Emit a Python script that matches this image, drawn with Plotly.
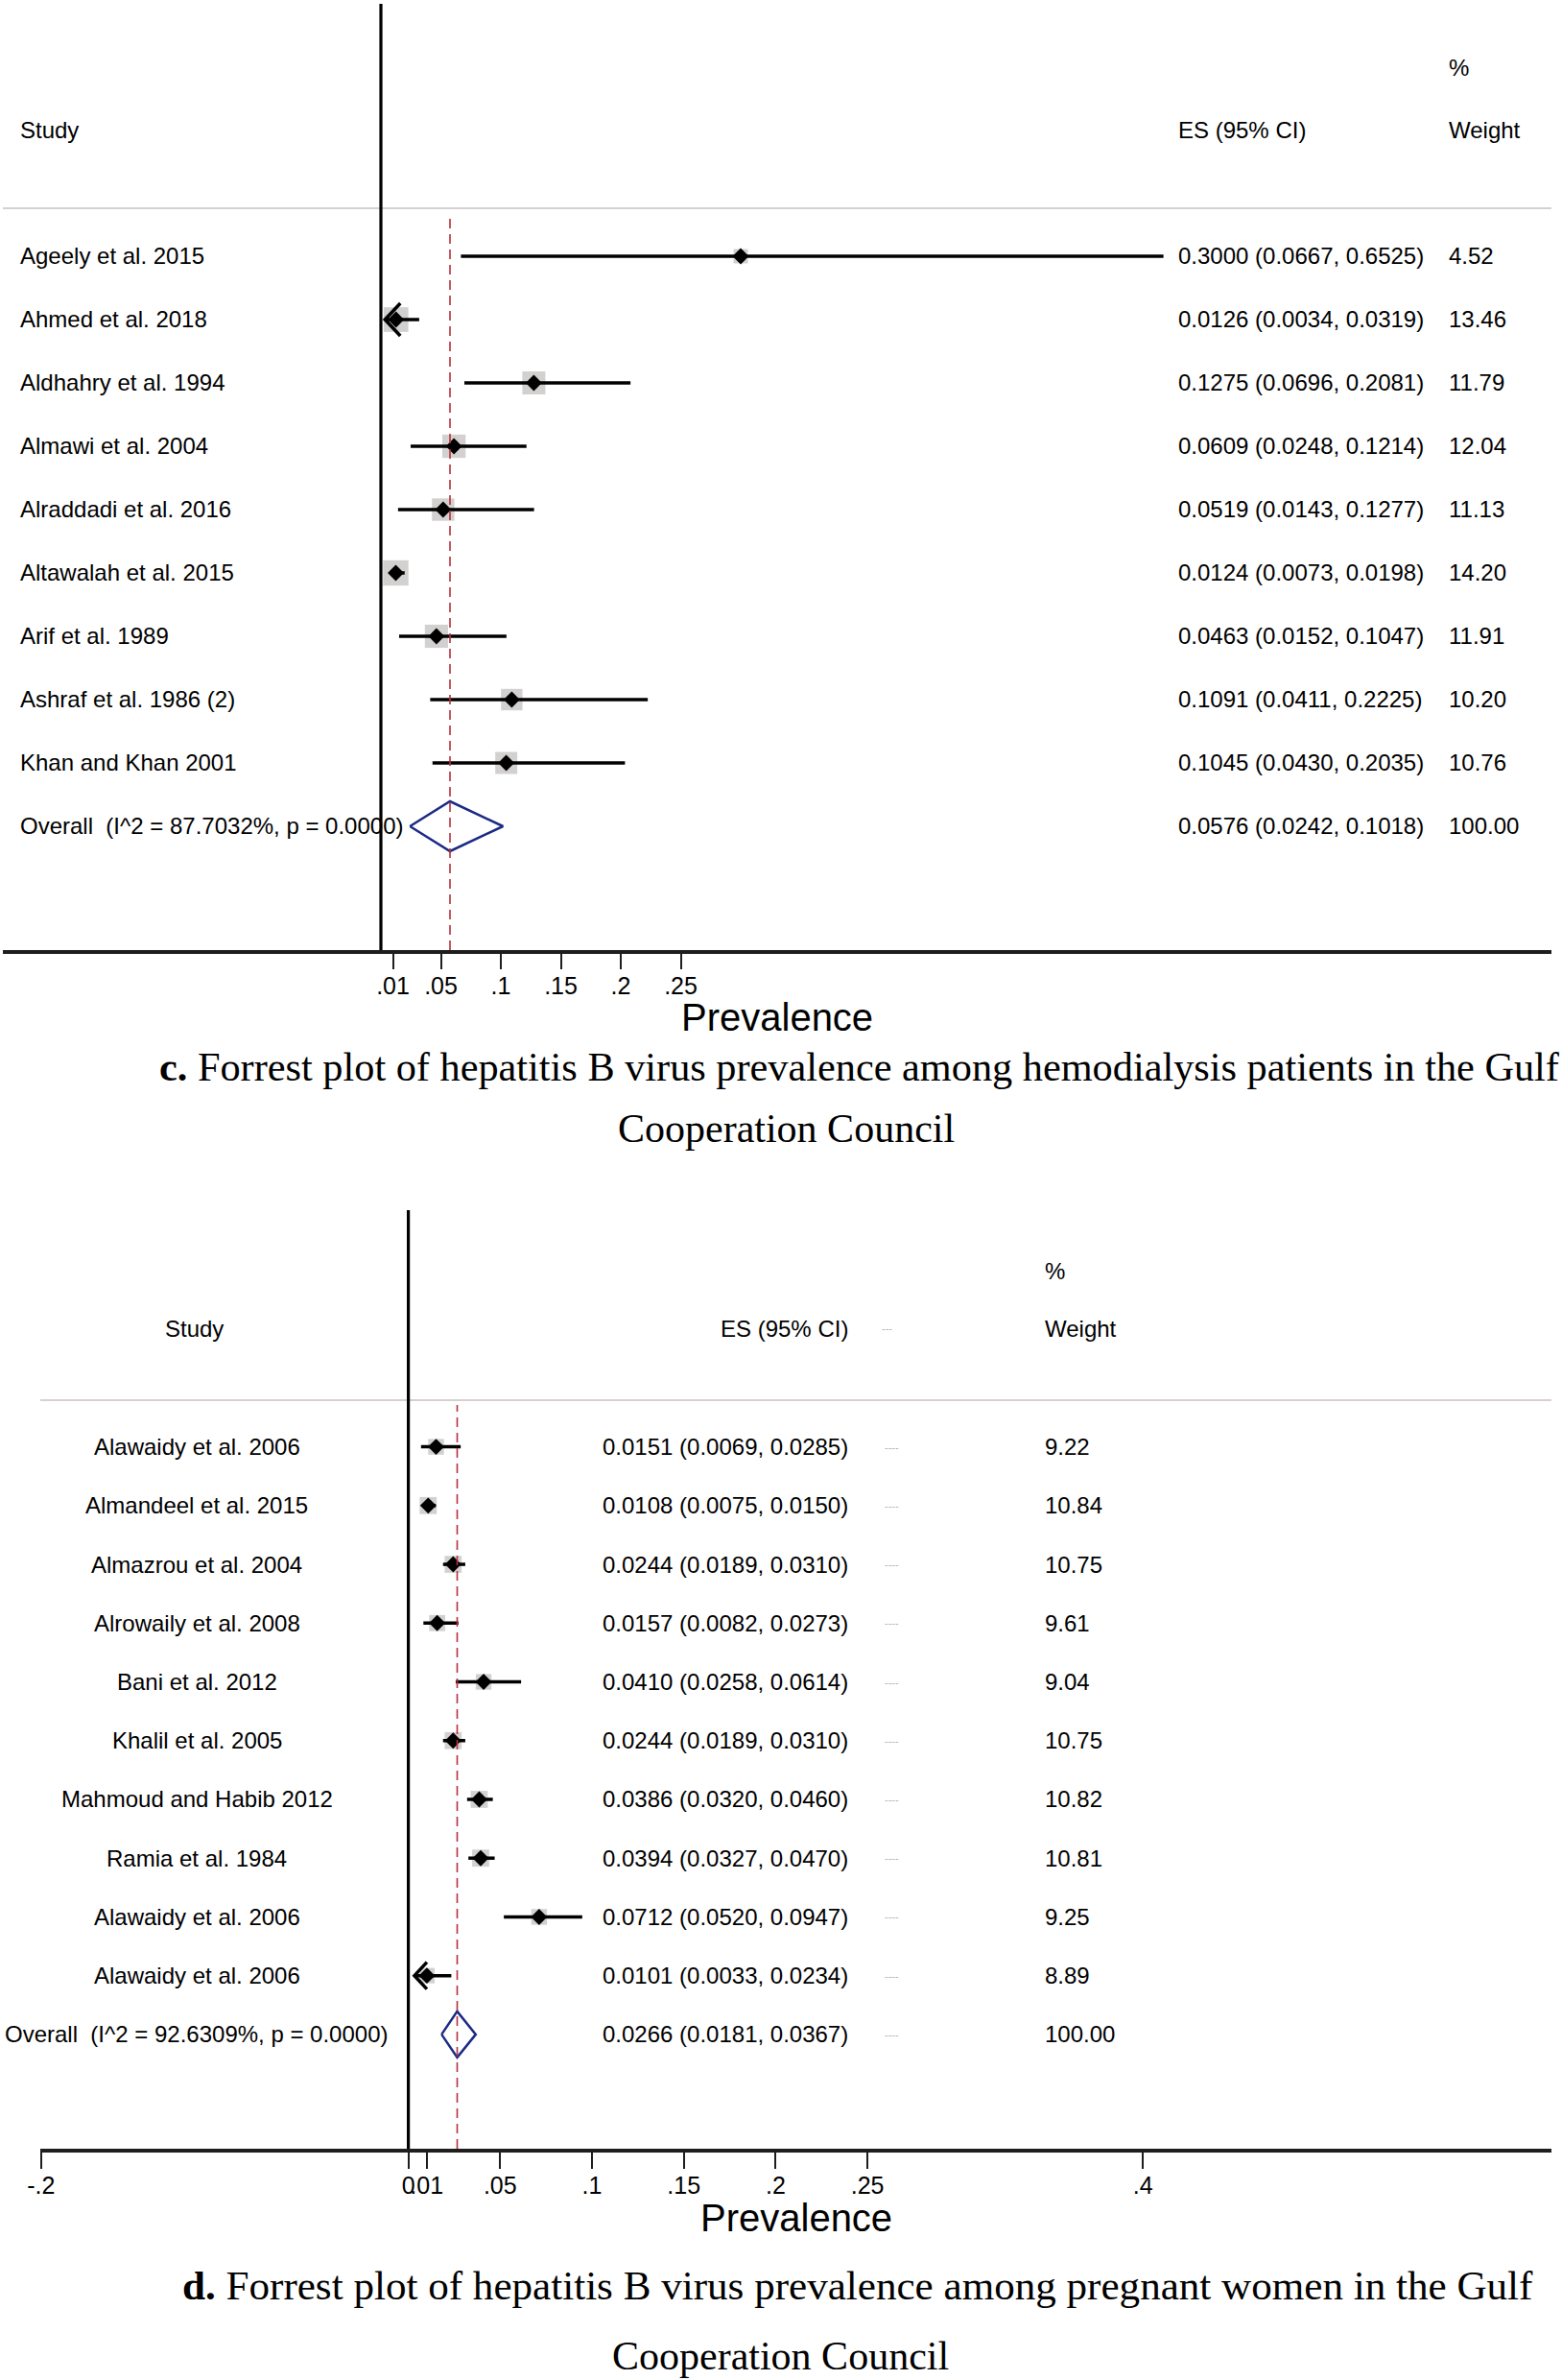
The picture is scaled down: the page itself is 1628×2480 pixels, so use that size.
import math
import plotly.graph_objects as go

W, H = 1628, 2480
SANS = "Liberation Sans, Arial, sans-serif"
SERIF = "Liberation Serif, Times New Roman, serif"

# ---------------- Panel c: hemodialysis patients ----------------
c_studies = ["Ageely et al. 2015", "Ahmed et al. 2018", "Aldhahry et al. 1994",
             "Almawi et al. 2004", "Alraddadi et al. 2016", "Altawalah et al. 2015",
             "Arif et al. 1989", "Ashraf et al. 1986 (2)", "Khan and Khan 2001"]
c_es = [0.3000, 0.0126, 0.1275, 0.0609, 0.0519, 0.0124, 0.0463, 0.1091, 0.1045]
c_lo = [0.0667, 0.0034, 0.0696, 0.0248, 0.0143, 0.0073, 0.0152, 0.0411, 0.0430]
c_hi = [0.6525, 0.0319, 0.2081, 0.1214, 0.1277, 0.0198, 0.1047, 0.2225, 0.2035]
c_weight = [4.52, 13.46, 11.79, 12.04, 11.13, 14.20, 11.91, 10.20, 10.76]
c_overall_label = "Overall\u00a0 (I^2 = 87.7032%, p = 0.0000)"
c_overall_es, c_overall_lo, c_overall_hi = 0.0576, 0.0242, 0.1018
c_overall_weight = 100.00
c_ticks = [0.01, 0.05, 0.1, 0.15, 0.2, 0.25]
c_tick_text = [".01", ".05", ".1", ".15", ".2", ".25"]
c_caption = ["<b>c.</b> Forrest plot of hepatitis B virus prevalence among hemodialysis patients in the Gulf",
             "Cooperation Council"]

# ---------------- Panel d: pregnant women ----------------
d_studies = ["Alawaidy et al. 2006", "Almandeel et al. 2015", "Almazrou et al. 2004",
             "Alrowaily et al. 2008", "Bani et al. 2012", "Khalil et al. 2005",
             "Mahmoud and Habib 2012", "Ramia et al. 1984", "Alawaidy et al. 2006",
             "Alawaidy et al. 2006"]
d_es = [0.0151, 0.0108, 0.0244, 0.0157, 0.0410, 0.0244, 0.0386, 0.0394, 0.0712, 0.0101]
d_lo = [0.0069, 0.0075, 0.0189, 0.0082, 0.0258, 0.0189, 0.0320, 0.0327, 0.0520, 0.0033]
d_hi = [0.0285, 0.0150, 0.0310, 0.0273, 0.0614, 0.0310, 0.0460, 0.0470, 0.0947, 0.0234]
d_weight = [9.22, 10.84, 10.75, 9.61, 9.04, 10.75, 10.82, 10.81, 9.25, 8.89]
d_overall_label = "Overall\u00a0 (I^2 = 92.6309%, p = 0.0000)"
d_overall_es, d_overall_lo, d_overall_hi = 0.0266, 0.0181, 0.0367
d_overall_weight = 100.00
d_ticks = [-0.2, 0, 0.01, 0.05, 0.1, 0.15, 0.2, 0.25, 0.4]
d_tick_text = ["-.2", "0", ".01", ".05", ".1", ".15", ".2", ".25", ".4"]
d_caption = ["<b>d.</b> Forrest plot of hepatitis B virus prevalence among pregnant women in the Gulf",
             "Cooperation Council"]

CLIP = 0.005  # CIs whose lower bound falls below this get an arrowhead

GREY = "#c0bcbc"
RED = "#b5313a"
NAVY = "#1b2a84"
DASH_COLOR = "#b9b0b0"

# Panel geometry in pixels
GC = dict(left=3, right=1617, x0=397, xs=1250, top=4, bot=990, row0=267, step=66,
          hline=217, hdr=136, pct=71, title_y=1060, box_k=7.0, diamond_h=26,
          chev_w=16, chev_h=17, ticklen=16, cap=[42.3, 42])
GD = dict(left=42, right=1617, x0=425.6, xs=1914, top=1261, bot=2239, row0=1507.6, step=61.23,
          hline=1459, hdr=1384, pct=1324, title_y=2311, box_k=5.4, diamond_h=24,
          chev_w=13, chev_h=14, ticklen=17, cap=[43.1, 42])

fig = go.Figure()
shapes, annotations = [], []


def yv(g, py):
    return -(py - g["row0"]) / g["step"]


def xv(g, px):
    return (px - g["x0"]) / g["xs"]


def py_paper(py):
    return 1 - py / H


def build(idx, g, studies, es, lo, hi, weight, ov_label, ov_es, ov_lo, ov_hi, ov_w,
          ticks, tick_text):
    xr = "x" if idx == 1 else "x2"
    yr = "y" if idx == 1 else "y2"
    n = len(studies)
    rows = [-i for i in range(n)]
    ov_row = -n

    # weight boxes
    fig.add_trace(go.Scatter(
        x=es, y=rows, mode="markers", xaxis=xr, yaxis=yr, hoverinfo="skip",
        marker=dict(symbol="square", size=[g["box_k"] * math.sqrt(w) for w in weight],
                    color=GREY, line=dict(width=0))))
    # CI lines (+ arrowheads)
    cx, cy = [], []
    for l, h, r in zip(lo, hi, rows):
        cx += [l, h, None]
        cy += [r, r, None]
        if l < CLIP:
            dx = g["chev_w"] / g["xs"]
            dy = g["chev_h"] / g["step"]
            cx += [l + dx, l, l + dx, None]
            cy += [r + dy, r, r - dy, None]
    fig.add_trace(go.Scatter(x=cx, y=cy, mode="lines", xaxis=xr, yaxis=yr, hoverinfo="skip",
                             line=dict(color="black", width=3.5)))
    # point estimates
    fig.add_trace(go.Scatter(x=es, y=rows, mode="markers", xaxis=xr, yaxis=yr, hoverinfo="skip",
                             marker=dict(symbol="diamond", size=13, color="black")))
    # overall diamond
    hd = g["diamond_h"] / g["step"]
    fig.add_trace(go.Scatter(
        x=[ov_lo, ov_es, ov_hi, ov_es, ov_lo],
        y=[ov_row, ov_row + hd, ov_row, ov_row - hd, ov_row],
        mode="lines", xaxis=xr, yaxis=yr, hoverinfo="skip",
        line=dict(color=NAVY, width=2.5)))

    # axes
    xa = dict(domain=[g["left"] / W, g["right"] / W],
              range=[xv(g, g["left"]), xv(g, g["right"])],
              anchor=yr, showgrid=False, zeroline=False, automargin=False,
              showline=True, linecolor="#1e1e1e", linewidth=3.5,
              ticks="outside", ticklen=g["ticklen"], tickwidth=2, tickcolor="#1e1e1e",
              tickmode="array", tickvals=ticks, ticktext=tick_text, tickangle=0,
              ticklabelstandoff=-4,
              tickfont=dict(family=SANS, size=25, color="black"))
    ya = dict(domain=[py_paper(g["bot"]), py_paper(g["top"])],
              range=[yv(g, g["bot"]), yv(g, g["top"])],
              anchor=xr, visible=False, automargin=False)
    if idx == 1:
        fig.update_layout(xaxis=xa, yaxis=ya)
    else:
        fig.update_layout(xaxis2=xa, yaxis2=ya)

    # reference lines
    shapes.append(dict(type="line", layer="below", xref=xr + " domain", x0=0, x1=1,
                       yref=yr, y0=yv(g, g["hline"]), y1=yv(g, g["hline"]),
                       line=dict(color="#d8d0d0", width=2)))
    shapes.append(dict(type="line", xref=xr, x0=0, x1=0, yref=yr + " domain", y0=0, y1=1,
                       line=dict(color="black", width=3.2)))
    shapes.append(dict(type="line", xref=xr, x0=ov_es, x1=ov_es, yref=yr,
                       y0=yv(g, g["bot"]), y1=yv(g, g["hline"] + 5),
                       line=dict(color=RED, width=1.6, dash="10px,6px")))

    # axis title
    annotations.append(dict(text="Prevalence", xref="paper", yref="paper",
                            x=(g["left"] + g["right"]) / 2 / W, y=py_paper(g["title_y"]),
                            xanchor="center", yanchor="middle", showarrow=False,
                            font=dict(family=SANS, size=40, color="black")))
    return xr, yr, rows, ov_row


def txt(text, px, y, yref, xanchor, size=24, color="black"):
    annotations.append(dict(text=text, xref="paper", x=px / W, yref=yref, y=y,
                            xanchor=xanchor, yanchor="middle", showarrow=False,
                            font=dict(family=SANS, size=size, color=color)))


# ---- panel c ----
xr, yr, rows, ov_row = build(1, GC, c_studies, c_es, c_lo, c_hi, c_weight, c_overall_label,
                             c_overall_es, c_overall_lo, c_overall_hi, c_overall_weight,
                             c_ticks, c_tick_text)
for s, e, l, h, w, r in zip(c_studies, c_es, c_lo, c_hi, c_weight, rows):
    txt(s, 19, r, yr, "left")
    txt(f"{e:.4f} ({l:.4f}, {h:.4f})", 1226, r, yr, "left")
    txt(f"{w:.2f}", 1508, r, yr, "left")
txt(c_overall_label, 19, ov_row, yr, "left")
txt(f"{c_overall_es:.4f} ({c_overall_lo:.4f}, {c_overall_hi:.4f})", 1226, ov_row, yr, "left")
txt(f"{c_overall_weight:.2f}", 1508, ov_row, yr, "left")
txt("Study", 19, yv(GC, GC["hdr"]), yr, "left")
txt("ES (95% CI)", 1226, yv(GC, GC["hdr"]), yr, "left")
txt("%", 1508, yv(GC, GC["pct"]), yr, "left")
txt("Weight", 1508, yv(GC, GC["hdr"]), yr, "left")

# ---- panel d ----
xr, yr, rows, ov_row = build(2, GD, d_studies, d_es, d_lo, d_hi, d_weight, d_overall_label,
                             d_overall_es, d_overall_lo, d_overall_hi, d_overall_weight,
                             d_ticks, d_tick_text)
DASH = "----"
for s, e, l, h, w, r in zip(d_studies, d_es, d_lo, d_hi, d_weight, rows):
    txt(s, 205, r, yr, "center")
    txt(f"{e:.4f} ({l:.4f}, {h:.4f})", 886, r, yr, "right")
    txt(DASH, 929, r, yr, "center", size=11, color=DASH_COLOR)
    txt(f"{w:.2f}", 1087, r, yr, "left")
txt(d_overall_label, 205, ov_row, yr, "center")
txt(f"{d_overall_es:.4f} ({d_overall_lo:.4f}, {d_overall_hi:.4f})", 886, ov_row, yr, "right")
txt(DASH, 929, ov_row, yr, "center", size=11, color=DASH_COLOR)
txt(f"{d_overall_weight:.2f}", 1087, ov_row, yr, "left")
txt("Study", 202, yv(GD, GD["hdr"]), yr, "center")
txt("ES (95% CI)", 886, yv(GD, GD["hdr"]), yr, "right")
txt("---", 924, yv(GD, GD["hdr"]), yr, "center", size=11, color=DASH_COLOR)
txt("%", 1087, yv(GD, GD["pct"]), yr, "left")
txt("Weight", 1087, yv(GD, GD["hdr"]), yr, "left")


# ---- captions ----
def caption(text, px, py, xanchor, size):
    annotations.append(dict(text=text, xref="paper", yref="paper", x=px / W, y=py_paper(py),
                            xanchor=xanchor, yanchor="middle", showarrow=False,
                            font=dict(family=SERIF, size=size, color="black")))


caption(c_caption[0], 164, 1111, "left", GC["cap"][0])
caption(c_caption[1], 819, 1176, "center", GC["cap"][1])
caption(d_caption[0], 188, 2381, "left", GD["cap"][0])
caption(d_caption[1], 813, 2455, "center", GD["cap"][1])

fig.update_layout(width=W, height=H, margin=dict(l=0, r=0, t=0, b=0, autoexpand=False),
                  paper_bgcolor="white", plot_bgcolor="white", showlegend=False,
                  shapes=shapes, annotations=annotations)

fig.write_html("out.html", config={"displayModeBar": False},
               post_script="document.body.style.margin='0px';")
